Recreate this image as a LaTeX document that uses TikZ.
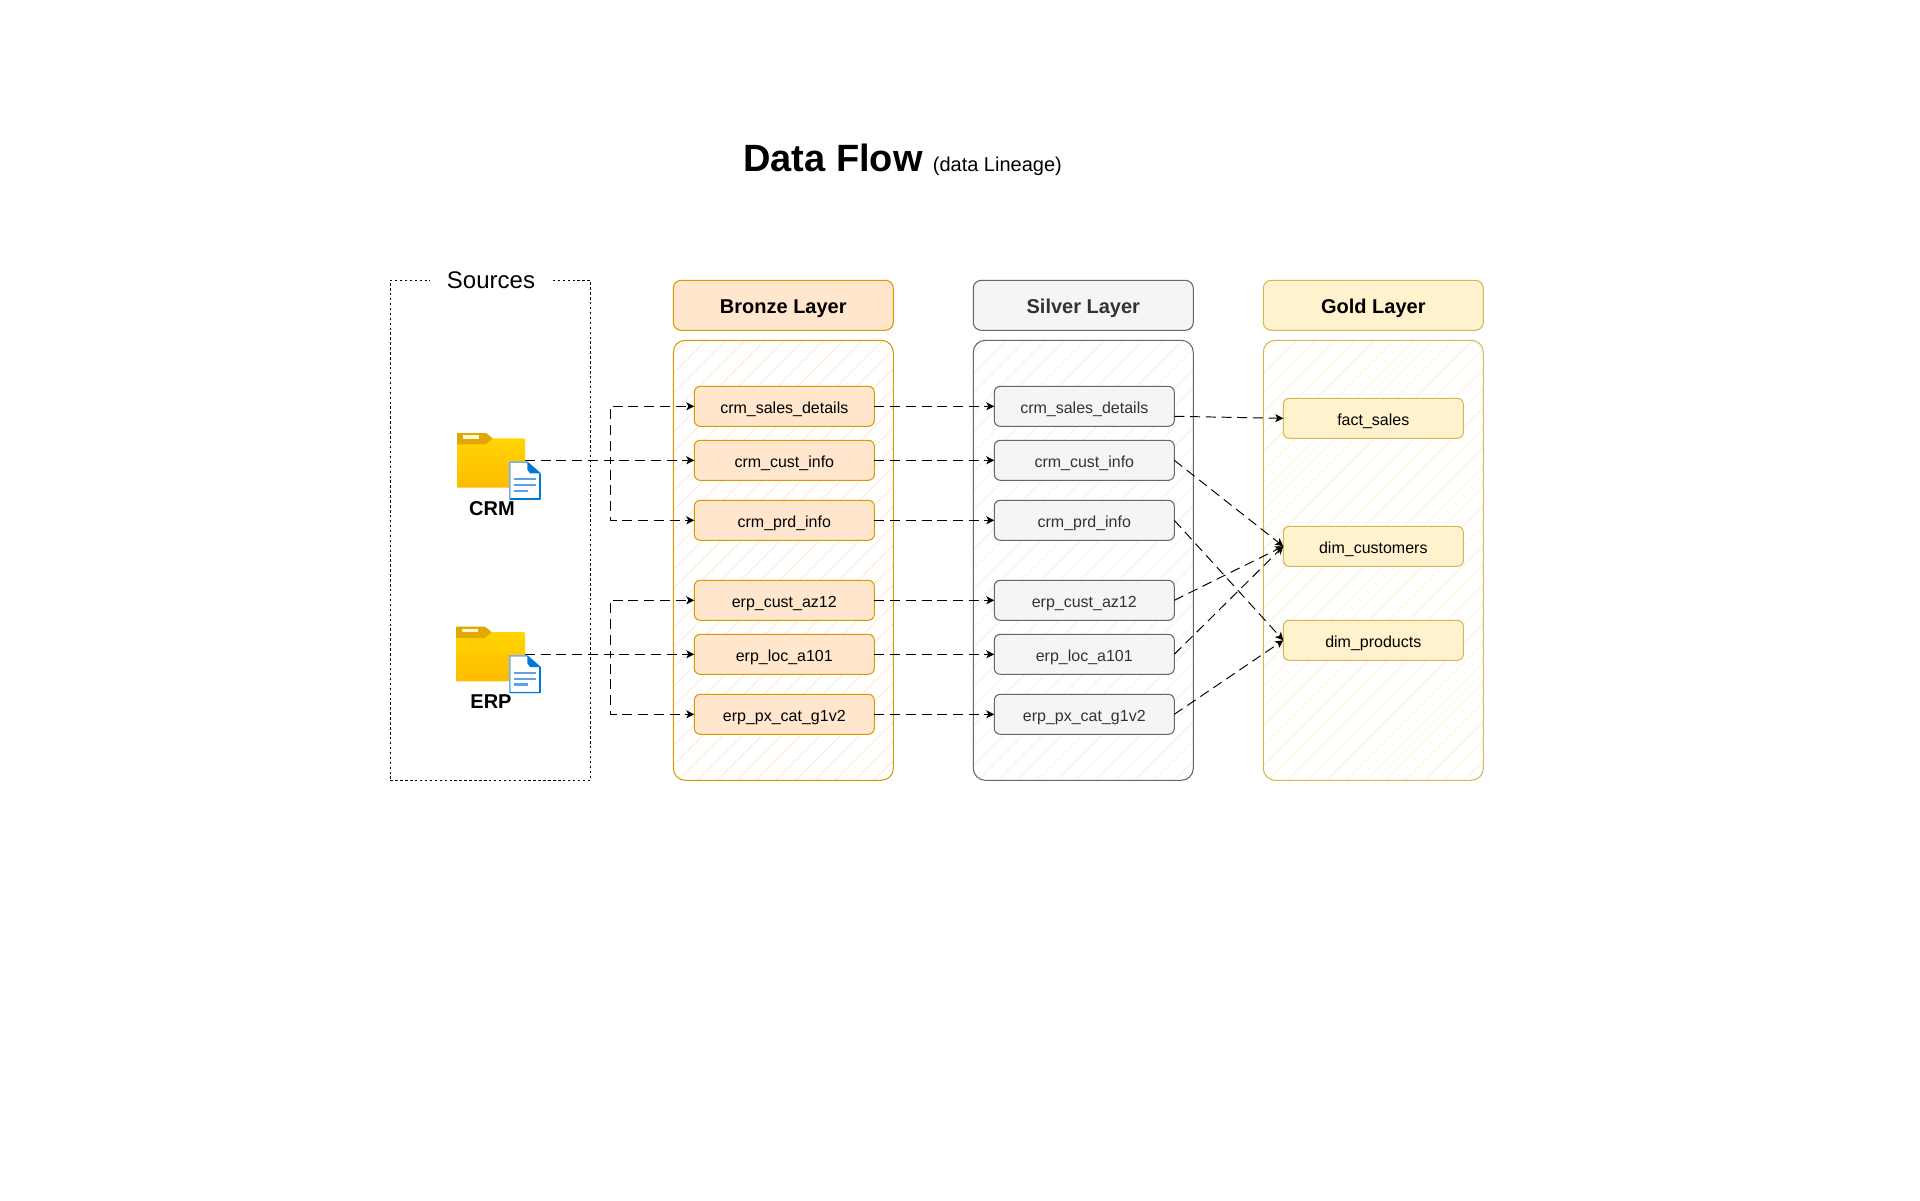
\documentclass[tikz,border=0pt]{standalone}
\usepackage{fontspec}
\setmainfont{Liberation Sans}
\usetikzlibrary{arrows.meta,calc}
\definecolor{brF}{HTML}{FFE6CC}\definecolor{brS}{HTML}{D79B00}
\definecolor{siF}{HTML}{F5F5F5}\definecolor{siS}{HTML}{666666}
\definecolor{goF}{HTML}{FFF2CC}\definecolor{goS}{HTML}{D6B656}
\definecolor{siT}{HTML}{333333}
\definecolor{siH}{HTML}{F0F0F0}
\definecolor{docL}{HTML}{5EA0EF}\definecolor{docD}{HTML}{0078D4}\definecolor{docB}{HTML}{6FB1F2}
\definecolor{fdT}{HTML}{FFD500}\definecolor{fdB}{HTML}{FFBB00}\definecolor{fdD}{HTML}{E0A800}
\tikzset{
  x=0.75pt,y=-0.75pt,
  box/.style={rectangle,rounded corners=4.5pt,line width=0.8pt,minimum width=135pt,minimum height=30pt,inner sep=0pt,outer sep=0pt,text height=10.5pt,text depth=0pt,font=\fontsize{12}{14}\selectfont},
  head/.style={rectangle,rounded corners=6pt,line width=0.8pt,minimum width=165pt,minimum height=37.5pt,inner sep=0pt,outer sep=0pt,text height=13pt,text depth=0pt,font=\fontsize{15}{18}\selectfont\bfseries},
  panel/.style={rectangle,rounded corners=9pt,line width=0.8pt,minimum width=165pt,minimum height=330pt,inner sep=0pt,outer sep=0pt},
  bronze/.style={fill=brF,draw=brS},
  silver/.style={fill=siF,draw=siS,text=siT},
  gold/.style={fill=goF,draw=goS},
  flow/.style={line width=0.72pt,dash pattern=on 7.5pt off 4.3pt,-{Stealth[length=6pt,width=6pt,inset=1.5pt]}},
  srcborder/.style={rectangle,draw=black,line width=0.8pt,dash pattern=on 1.85pt off 1.85pt,minimum width=150pt,minimum height=375pt,inner sep=0pt,outer sep=0pt},
  iconbox/.style={rectangle,minimum width=51pt,minimum height=41.5pt,inner sep=0pt,outer sep=0pt},
  srcname/.style={anchor=base,font=\fontsize{15}{18}\selectfont\bfseries,inner sep=0pt},
}
\newcommand{\hatchpanel}[3]{% centre x, colour, phase
  \begin{scope}
    \clip[rounded corners=9pt] (#1-110,340.3) rectangle (#1+110,780.3);
    \foreach \k in {0,...,40}{
      \draw[#2,line width=0.55pt] ({#3+19.6*\k-340.3},340.3) -- ({#3+19.6*\k-780.3},780.3);
    }
  \end{scope}
}
\newcommand{\filefolder}[2]{% left and top of the folder
  \begin{scope}[shift={(#1,#2)}]
    \shade[top color=fdT,bottom color=fdB,rounded corners=0.8pt] (0,5.3) rectangle (525-#1,54.7);
    \fill[fdD] (0,0) -- (29,0) -- (35.5,5.3) -- (29,11.3) -- (0,11.3) -- cycle;
    \fill[white!85!fdT] (5.7,2.3) rectangle (22,5.7);
  \end{scope}
  \begin{scope}[shift={(457,#2)}]
    \filldraw[fill=white,draw=docB,line width=1.1pt,line join=round] (52.8,29.2) -- (70.3,29.2) -- (83.2,40.6) -- (83.2,66) -- (52.8,66) -- cycle;
    \draw[draw=docD,line width=1.1pt,line join=round] (83.2,40.6) -- (83.2,66) -- (52.8,66);
    \fill[docD] (70.3,28.7) -- (83.7,40.3) -- (73,40.3) -- (70.3,36.5) -- cycle;
    \draw[docL,line width=1.7pt] (56.7,46.3) -- (79,46.3) (56.7,52) -- (79,52);
    \draw[docL,line width=1.7pt] (56.7,57.7) -- (71,57.7);
  \end{scope}
}
\begin{document}
\begin{tikzpicture}
\useasboundingbox (0,0) rectangle (1920,1200);
\fill[white] (0,0) rectangle (1920,1200);

% title
\node[anchor=base west,inner sep=0pt] (title) at (743,171)
  {{\fontsize{28.5}{32}\selectfont\bfseries Data Flow}\hspace{7.6pt}{\fontsize{15}{18}\selectfont (data Lineage)}};

% sources frame
\node[srcborder] (srcbox) at (490.3,530.3) {};
\node[rectangle,fill=white,minimum width=91.5pt,minimum height=18pt,inner sep=0pt,text height=12pt,text depth=0pt,font=\fontsize{18}{22}\selectfont] (srclabel) at (491,280.3) {Sources};

% hatched layer panels
\hatchpanel{783.3}{brF}{1027}
\hatchpanel{1083.3}{siH}{1327}
\hatchpanel{1373.3}{goF}{1617}
\node[panel,draw=brS] (bp) at (783.3,560.3) {};
\node[panel,draw=siS] (sp) at (1083.3,560.3) {};
\node[panel,draw=goS] (gp) at (1373.3,560.3) {};

% layer headers
\node[head,bronze] (bh) at (783.3,305.3) {Bronze Layer};
\node[head,silver] (sh) at (1083.3,305.3) {Silver Layer};
\node[head,gold] (gh) at (1373.3,305.3) {Gold Layer};

% bronze tables
\node[box,bronze] (b1) at (784.3,406.3) {crm\_sales\_details};
\node[box,bronze] (b2) at (784.3,460.3) {crm\_cust\_info};
\node[box,bronze] (b3) at (784.3,520.3) {crm\_prd\_info};
\node[box,bronze] (b4) at (784.3,600.3) {erp\_cust\_az12};
\node[box,bronze] (b5) at (784.3,654.3) {erp\_loc\_a101};
\node[box,bronze] (b6) at (784.3,714.3) {erp\_px\_cat\_g1v2};

% silver tables
\node[box,silver] (s1) at (1084.3,406.3) {crm\_sales\_details};
\node[box,silver] (s2) at (1084.3,460.3) {crm\_cust\_info};
\node[box,silver] (s3) at (1084.3,520.3) {crm\_prd\_info};
\node[box,silver] (s4) at (1084.3,600.3) {erp\_cust\_az12};
\node[box,silver] (s5) at (1084.3,654.3) {erp\_loc\_a101};
\node[box,silver] (s6) at (1084.3,714.3) {erp\_px\_cat\_g1v2};

% gold tables
\node[box,gold] (g1) at (1373.3,418.3) {fact\_sales};
\node[box,gold] (g2) at (1373.3,546.3) {dim\_customers};
\node[box,gold] (g3) at (1373.3,640.3) {dim\_products};

% source connectors
\node[iconbox] (crm) at (491,460.3) {};
\node[iconbox] (erp) at (491,654.3) {};
\coordinate (crmbus) at (610,460.3);
\coordinate (erpbus) at (610,654.3);
\draw[flow] (crm.east) -- (b2.west);
\draw[flow] (crm.east) -- (crmbus) -- (crmbus |- b1.west) -- (b1.west);
\draw[flow] (crm.east) -- (crmbus) -- (crmbus |- b3.west) -- (b3.west);
\draw[flow] (erp.east) -- (b5.west);
\draw[flow] (erp.east) -- (erpbus) -- (erpbus |- b4.west) -- (b4.west);
\draw[flow] (erp.east) -- (erpbus) -- (erpbus |- b6.west) -- (b6.west);

% bronze to silver
\foreach \i in {1,...,6}{\draw[flow] (b\i.east) -- (s\i.west);}

% silver to gold
\coordinate (s1out) at ($(s1.east)+(0,10)$);
\draw[flow] (s1out) -- (g1.west);
\draw[flow] (s2.east) -- (g2.west);
\draw[flow] (s3.east) -- (g3.west);
\draw[flow] (s4.east) -- (g2.west);
\draw[flow] (s5.east) -- (g2.west);
\draw[flow] (s6.east) -- (g3.west);

% icons
\filefolder{457}{433}
\filefolder{456}{626.7}
\node[srcname] (crmname) at (492,515) {CRM};
\node[srcname] (erpname) at (491,708) {ERP};
\end{tikzpicture}
\end{document}
